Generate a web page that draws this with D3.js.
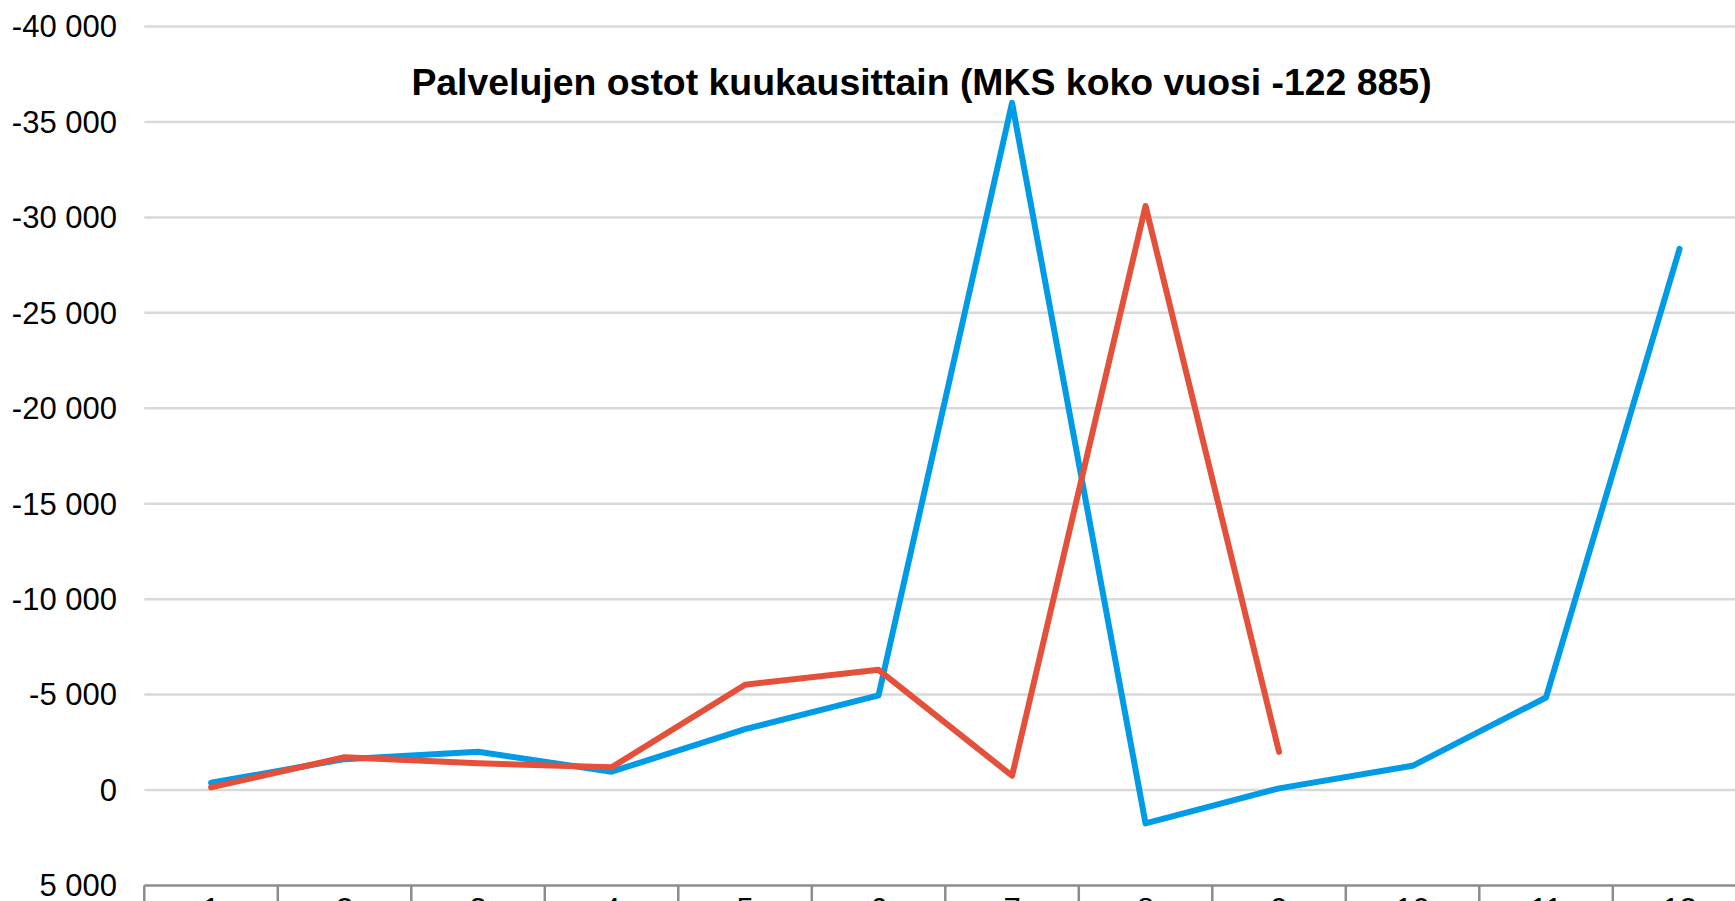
<!DOCTYPE html>
<html>
<head>
<meta charset="utf-8">
<script src="https://cdn.jsdelivr.net/npm/d3@7"></script>
<style>
    body { margin: 0; background: #fff; overflow: hidden; }
    svg { display: block; font-family: 'Liberation Sans', Arial, sans-serif; }
</style>
</head>
<body>
<svg class="svg" width="1735" height="901"></svg>
<script>
let months = [1,2,3,4,5,6,7,8,9,10,11,12];
let yTicks = [-40000,-35000,-30000,-25000,-20000,-15000,-10000,-5000,0,5000];
let blueValues = [-380,-1620,-2010,-960,-3190,-4960,-36000,1750,-90,-1270,-4850,-28350];
let redValues = [-140,-1720,-1400,-1190,-5520,-6300,-750,-30600,-2000,null,null,null];
let titleText = 'Palvelujen ostot kuukausittain (MKS koko vuosi -122 885)';

let svg = d3.select('.svg');
let plotLeft = 144.3;
let bandW = 133.5;

let x = d3.scaleBand()
    .domain(months)
    .range([plotLeft, plotLeft + bandW * months.length]);
let y = d3.scaleLinear()
    .domain([5000,-40000])
    .range([885.5, 26.5]);

// gridlines
svg.append('g').selectAll('line')
    .data(yTicks.filter(function (d) { return d !== 5000; }))
    .enter().append('line')
    .attr('x1', plotLeft)
    .attr('x2', 1735)
    .attr('y1', function (d) { return y(d); })
    .attr('y2', function (d) { return y(d); })
    .style('stroke','#d9d9d9')
    .style('stroke-width','2.5');

// y labels
let fmt = function (d) {
    let s = d3.format(',')(d).replace(/,/g,' ');
    return s.replace('−','-');
};
svg.append('g').selectAll('text')
    .data(yTicks)
    .enter().append('text')
    .attr('x', 117)
    .attr('y', function (d) { return y(d); })
    .attr('dy', '0.35em')
    .attr('text-anchor','end')
    .attr('font-size','31px')
    .attr('fill','#000')
    .text(fmt);

// x axis at the bottom (value 5000)
let xAxis = d3.axisBottom(x).tickSize(0).tickPadding(12);
let axisG = svg.append('g')
    .attr('transform','translate(0,' + y(5000) + ')')
    .call(xAxis);
axisG.select('.domain').remove();
axisG.selectAll('text').attr('font-size','31px').attr('fill','#000')
    .attr('font-family',"'Liberation Sans', Arial, sans-serif");

svg.append('line')
    .attr('x1', plotLeft).attr('x2', 1735)
    .attr('y1', y(5000)).attr('y2', y(5000))
    .style('stroke','#8c8c8c')
    .style('stroke-width','2.5');

svg.append('g').selectAll('line')
    .data(months.concat([13]))
    .enter().append('line')
    .attr('x1', function (d, i) { return plotLeft + i * bandW; })
    .attr('x2', function (d, i) { return plotLeft + i * bandW; })
    .attr('y1', y(5000))
    .attr('y2', 901)
    .style('stroke','#8c8c8c')
    .style('stroke-width','2.5');

// lines
let line = d3.line()
    .defined(function (d) { return d.v !== null; })
    .x(function (d) { return x(d.m) + x.bandwidth() / 2; })
    .y(function (d) { return y(d.v); });

let series = [
    {name:'blue', color:'#009be6', values: blueValues},
    {name:'red', color:'#e4503a', values: redValues}
];
for (let i = 0; i < series.length; i++) {
    let pts = months.map(function (m, j) { return {m: m, v: series[i].values[j]}; });
    svg.append('path')
        .datum(pts)
        .attr('d', line)
        .attr('fill','none')
        .style('stroke', series[i].color)
        .style('stroke-width','6')
        .style('stroke-linejoin','round')
        .style('stroke-linecap','round');
}

// title
svg.append('text')
    .attr('x', 921.5)
    .attr('y', 95)
    .attr('text-anchor','middle')
    .attr('font-size','37.4px')
    .attr('font-weight','bold')
    .attr('fill','#000')
    .text(titleText);
</script>
</body>
</html>
